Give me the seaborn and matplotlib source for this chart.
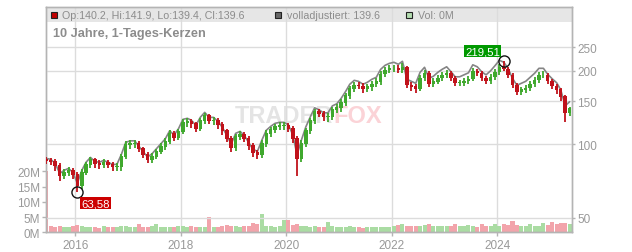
import numpy as np
import pandas as pd
import matplotlib
matplotlib.use("Agg")
import matplotlib.pyplot as plt
from matplotlib.patches import Rectangle
from matplotlib.ticker import NullLocator, FixedLocator
import seaborn as sns

# ---------------- data (monthly candles) ----------------
months = pd.date_range("2015-06-01", "2025-05-01", freq="MS") + pd.Timedelta(days=14)

closes = [
    85.5, 84.7, 81.6, 74.2, 76.4, 77.8, 75.0,
    67.6, 76.4, 82.4, 86.3, 83.1, 82.4, 83.9, 82.4, 80.8, 80.8, 88.8, 99.4,
    100.4, 100.4, 95.7, 90.5, 86.3, 88.8, 93.1, 97.6, 102.3, 110.3, 106.2, 112.4,
    122.3, 123.5, 121.2, 115.6, 124.6, 130.6, 124.6, 124.6, 120.0, 113.4, 105.2, 96.7,
    107.2, 109.2, 105.2, 98.5, 92.2, 90.5, 100.4, 110.3, 114.5, 117.8, 118.9, 118.9,
    115.6, 105.2, 87.1, 100.4, 113.4, 124.6, 135.7, 133.1, 129.4, 129.4, 138.2, 140.9,
    147.7, 157.7, 168.5, 174.9, 173.3, 168.5, 171.7, 176.6, 180.0, 194.0, 201.5, 205.3,
    205.3, 201.5, 207.3, 174.9, 171.7, 168.5, 186.8, 195.9, 176.6, 180.0, 186.8, 192.2,
    195.9, 186.8, 178.3, 178.3, 181.6, 185.1, 199.6, 195.9, 186.8, 181.6, 188.6, 197.7,
    207.3, 203.4, 192.2, 174.9, 163.8, 166.9, 170.0, 176.6, 183.4, 192.2, 192.2, 181.6,
    173.3, 166.9, 156.2, 134.4, 139.6,
]
highs = [
    89, 88, 87, 84, 79, 81, 80,
    77, 79, 85, 89, 88, 86, 87, 86, 85, 84, 91, 103,
    104, 104, 103, 98, 93, 92, 96, 101, 106, 114, 113, 116,
    127, 128, 127, 124, 128, 134, 133, 129, 128, 123, 116, 108,
    110, 113, 112, 108, 101, 95, 104, 114, 118, 121, 123, 123,
    122, 119, 108, 104, 117, 128, 140, 140, 137, 134, 142, 146,
    153, 163, 174, 180, 180, 178, 177, 182, 186, 200, 208, 212,
    212, 211, 216, 210, 180, 177, 192, 202, 199, 186, 192, 198,
    202, 200, 190, 184, 187, 190, 205, 204, 199, 190, 194, 203,
    213, 219.51, 207, 195, 178, 172, 175, 182, 189, 198, 199, 196,
    185, 177, 170, 159, 142,
]
lows = [
    83, 82, 78, 71, 72, 74, 72,
    63.58, 66, 75, 80, 80, 79, 80, 80, 78, 78, 78, 87,
    96, 97, 93, 88, 84, 84, 87, 91, 95, 100, 103, 104,
    110, 118, 117, 112, 113, 121, 121, 120, 116, 109, 102, 93,
    94, 104, 102, 95, 89, 87, 88, 98, 107, 111, 114, 115,
    112, 101, 74.5, 85, 98, 110, 121, 129, 125, 124, 126, 134,
    136, 144, 153, 164, 168, 163, 164, 166, 171, 175, 188, 195,
    198, 195, 196, 170, 166, 162, 165, 182, 171, 172, 176, 182,
    187, 182, 173, 173, 174, 177, 181, 190, 181, 176, 177, 184,
    193, 199, 186, 170, 159, 159, 162, 166, 172, 179, 186, 176,
    168, 161, 150, 124, 131,
]
volume_m = [
    20, 2.0, 1.8, 2.2, 1.6, 1.8, 2.0,
    2.4, 2.0, 1.8, 1.6, 1.8, 1.5, 2.0, 1.6, 1.7, 1.8, 2.2, 2.0,
    1.8, 1.6, 2.6, 1.8, 1.7, 2.0, 2.8, 1.8, 1.6, 1.9, 1.8, 2.0,
    2.0, 1.8, 2.2, 1.8, 1.6, 1.9, 5.0, 1.8, 1.7, 2.0, 2.4, 2.2,
    2.0, 1.8, 2.2, 2.0, 3.2, 2.6, 6.0, 2.2, 2.0, 1.8, 2.0, 4.0,
    4.0, 2.4, 2.6, 2.2, 2.0, 1.8, 2.0, 1.8, 1.6, 3.5, 2.0, 1.8,
    1.8, 1.6, 2.0, 1.6, 1.8, 1.5, 1.8, 1.6, 1.6, 1.8, 1.7, 1.8,
    2.0, 2.4, 2.8, 2.2, 2.0, 2.2, 2.0, 2.4, 2.6, 2.2, 2.0, 2.0,
    2.0, 2.2, 2.8, 2.2, 2.0, 2.4, 2.0, 1.8, 2.6, 2.2, 2.0, 2.8,
    2.2, 2.6, 2.4, 3.6, 2.4, 2.2, 2.0, 2.8, 2.2, 2.0, 3.0, 2.4,
    3.5, 2.8, 3.0, 3.2, 2.6,
]
first_open = 86.5
# adjusted ("volladjustiert") line sits above the candles by a ratio read per year
adj_ratio_years = [2015, 2016, 2017, 2018, 2019, 2020, 2021, 2022, 2023, 2024, 2025]
adj_ratio_values = [1.025, 1.025, 1.03, 1.035, 1.035, 1.04, 1.045, 1.055, 1.06, 1.065, 1.07]

year_ticks = [2016, 2018, 2020, 2022, 2024]
price_ticks = [50, 100, 150, 200, 250]
vol_ticks_m = [0, 5, 10, 15, 20]

low_label = "63,58"
high_label = "219,51"
legend_ohlc = "Op:140.2, Hi:141.9, Lo:139.4, Cl:139.6"
legend_adj = "volladjustiert: 139.6"
legend_vol = "Vol: 0M"
title_text = "10 Jahre, 1-Tages-Kerzen"

# ---------------- derived frames ----------------
df = pd.DataFrame({"date": months, "close": closes, "high": highs, "low": lows,
                   "vol": np.array(volume_m) * 1e6})
df["open"] = [first_open] + closes[:-1]
ratio_map = dict(zip(adj_ratio_years, adj_ratio_values))
df["adj"] = df["close"] * df["date"].dt.year.map(ratio_map)
up = df["close"] >= df["open"]

RED = "#c0121b"
GREEN = "#3fa82d"
VPINK = "#f2a4ab"
VGREEN = "#aadca3"
GRID = "#dcdcdc"
SPINE = "#b4b4b4"
TXT = "#999999"

sns.set_theme(style="white")
plt.rcParams["font.family"] = ["Liberation Sans", "DejaVu Sans"]

W, H = 632, 253
fig = plt.figure(figsize=(W / 100, H / 100), dpi=100)
L, R, T, B = 45.7, 572.3, 8.3, 233.3
axv = fig.add_axes([L / W, (H - B) / H, (R - L) / W, (B - T) / H])
ax = axv.twinx()

x0, x1 = pd.Timestamp("2015-06-10"), pd.Timestamp("2025-06-03")
axv.set_xlim(x0, x1)

# legend band
axv.add_patch(Rectangle((0, (B - 22.7) / (B - T)), 1, (22.7 - T) / (B - T),
                        transform=axv.transAxes, facecolor="#e6e6e6",
                        edgecolor="none", zorder=0.1))

# vertical year grid
for yr in year_ticks:
    axv.axvline(pd.Timestamp(f"{yr}-01-01"), color=GRID, lw=1, zorder=0.5)

# watermark
axv.text(235 / W, 1 - 123 / H, "TRADER", transform=fig.transFigure, fontsize=17,
         fontweight="bold", color="#e4e4e4", ha="left", va="baseline", zorder=0.3)
axv.text(333 / W, 1 - 123 / H, "FOX", transform=fig.transFigure, fontsize=17,
         fontweight="bold", color="#fbd3d7", ha="left", va="baseline", zorder=0.3)

# volume
axv.bar(df["date"], df["vol"], width=28,
        color=np.where(up, VGREEN, VPINK), linewidth=0, zorder=1)
axv.set_ylim(0, 73.8e6)
axv.yaxis.set_major_locator(FixedLocator([v * 1e6 for v in vol_ticks_m]))
axv.set_yticklabels([f"{v}M" for v in vol_ticks_m])
axv.set_xticks([pd.Timestamp(f"{y}-01-01") for y in year_ticks])
axv.set_xticklabels([str(y) for y in year_ticks])
axv.tick_params(axis="both", colors=SPINE, labelcolor=TXT, labelsize=8.5,
                length=3, width=1, direction="out")
axv.tick_params(axis="y", pad=1, left=True)
axv.tick_params(axis="x", pad=2, bottom=True)

# price
ax.set_yscale("log")
ax.set_ylim(43.7, 363.6)
for p in price_ticks:
    ax.axhline(p, color=GRID, lw=1, zorder=0.5)
sns.lineplot(x=df["date"], y=df["adj"], ax=ax, color="#858585", lw=1.2, zorder=2)
ccol = np.where(up, GREEN, RED)
ax.vlines(df["date"], df["low"], df["high"], colors=ccol, lw=1.3, zorder=3)
body_lo = np.minimum(df["open"], df["close"])
body_h = np.abs(df["close"] - df["open"]) + 0.8
ax.bar(df["date"], body_h, bottom=body_lo, width=24, color=ccol, linewidth=0, zorder=3)
ax.set_xlim(x0, x1)
ax.yaxis.set_major_locator(FixedLocator(price_ticks))
ax.yaxis.set_minor_locator(NullLocator())
ax.set_yticklabels([str(p) for p in price_ticks])
ax.tick_params(axis="y", colors=SPINE, labelcolor=TXT, labelsize=8.5,
               length=2.5, width=1, pad=1, right=True)
ax.set_ylabel("")
ax.set_xlabel("")
axv.set_ylabel("")
axv.set_xlabel("")

for a in (ax, axv):
    for s in a.spines.values():
        s.set_color(SPINE)
        s.set_linewidth(1)

# extreme markers
i_lo = int(np.argmin(df["low"]))
i_hi = int(np.argmax(df["high"]))
for i, val, lab, fc, off in [(i_lo, df["low"][i_lo], low_label, "#cc0000", (18.5, -10.6)),
                              (i_hi, df["high"][i_hi], high_label, "#009900", (-21.4, 9.8))]:
    ax.plot([df["date"][i]], [val], "o", mfc="none", mec="#111111", ms=8, mew=1, zorder=6)
    ax.annotate(lab, xy=(df["date"][i], val), xytext=off, textcoords="offset pixels",
                ha="center", va="center", color="white", fontsize=8.2, zorder=7,
                bbox=dict(boxstyle="square,pad=0.12", fc=fc, ec="none"))

# legend row
def square(x, fc):
    fig.patches.append(Rectangle((x / W, 1 - 18.7 / H), 6 / W, 6 / H,
                                 transform=fig.transFigure, facecolor=fc,
                                 edgecolor="#222222", lw=0.8, zorder=5))

square(50.7, "#c00000")
fig.text(62.5 / W, 1 - 15.8 / H, legend_ohlc, fontsize=7.7, color="#8c8c8c",
         ha="left", va="center")
square(275, "#666666")
fig.text(286.7 / W, 1 - 15.8 / H, legend_adj, fontsize=7.7, color="#8c8c8c",
         ha="left", va="center")
square(406, "#b4ddb0")
fig.text(418 / W, 1 - 15.8 / H, legend_vol, fontsize=7.7, color="#8c8c8c",
         ha="left", va="center")
fig.text(53.3 / W, 1 - 33.7 / H, title_text, fontsize=9.2, fontweight="bold",
         color="#8c8c8c", ha="left", va="center")

fig.savefig("out.png", dpi=100, facecolor="white")
